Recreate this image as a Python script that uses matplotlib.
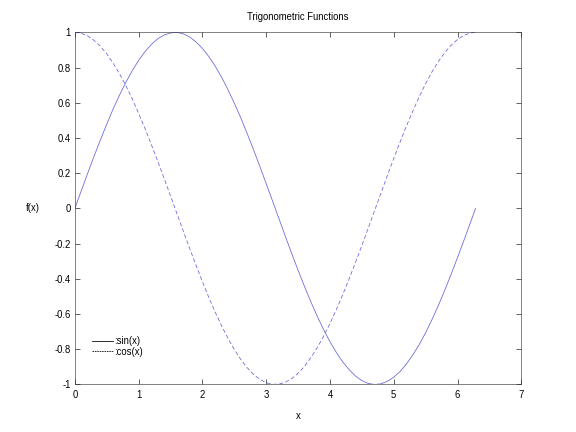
import matplotlib
matplotlib.use("Agg")
import matplotlib.pyplot as plt
from matplotlib.lines import Line2D

x = [0.0, 0.1, 0.2, 0.3, 0.4, 0.5, 0.6, 0.7, 0.8, 0.9, 1.0, 1.1, 1.2, 1.3, 1.4, 1.5,
     1.6, 1.7, 1.8, 1.9, 2.0, 2.1, 2.2, 2.3, 2.4, 2.5, 2.6, 2.7, 2.8, 2.9, 3.0, 3.1,
     3.2, 3.3, 3.4, 3.5, 3.6, 3.7, 3.8, 3.9, 4.0, 4.1, 4.2, 4.3, 4.4, 4.5, 4.6, 4.7,
     4.8, 4.9, 5.0, 5.1, 5.2, 5.3, 5.4, 5.5, 5.6, 5.7, 5.8, 5.9, 6.0, 6.1, 6.2, 6.283]
sin_vals = [0.000, 0.100, 0.199, 0.296, 0.389, 0.479, 0.565, 0.644, 0.717, 0.783,
            0.841, 0.891, 0.932, 0.964, 0.985, 0.997, 1.000, 0.992, 0.974, 0.946,
            0.909, 0.863, 0.808, 0.746, 0.675, 0.598, 0.516, 0.427, 0.335, 0.239,
            0.141, 0.042, -0.058, -0.158, -0.256, -0.351, -0.443, -0.530, -0.612, -0.688,
            -0.757, -0.818, -0.872, -0.916, -0.952, -0.978, -0.994, -1.000, -0.996, -0.982,
            -0.959, -0.926, -0.883, -0.832, -0.773, -0.706, -0.631, -0.551, -0.465, -0.374,
            -0.279, -0.182, -0.083, 0.000]
cos_vals = [1.000, 0.995, 0.980, 0.955, 0.921, 0.878, 0.825, 0.765, 0.697, 0.622,
            0.540, 0.454, 0.362, 0.267, 0.170, 0.071, -0.029, -0.129, -0.227, -0.323,
            -0.416, -0.505, -0.589, -0.666, -0.737, -0.801, -0.857, -0.904, -0.942, -0.971,
            -0.990, -0.999, -0.998, -0.987, -0.967, -0.936, -0.897, -0.848, -0.791, -0.726,
            -0.654, -0.575, -0.490, -0.401, -0.307, -0.211, -0.112, -0.012, 0.087, 0.187,
            0.284, 0.378, 0.469, 0.554, 0.635, 0.709, 0.776, 0.835, 0.886, 0.927,
            0.960, 0.983, 0.997, 1.000]
xticks = [0, 1, 2, 3, 4, 5, 6, 7]
yticks = [-1, -0.8, -0.6, -0.4, -0.2, 0, 0.2, 0.4, 0.6, 0.8, 1]
ytick_labels = ["-1", "-0.8", "-0.6", "-0.4", "-0.2", "0", "0.2", "0.4", "0.6", "0.8", "1"]
legend_labels = [":sin(x)", ":cos(x)"]

plt.rcParams['font.family'] = ['Liberation Sans', 'DejaVu Sans']
fig = plt.figure(figsize=(8, 6), dpi=72)
ax = fig.add_axes([0.13, 0.11, 0.775, 0.815])

line_color = '#6a6ad8'
ax.plot(x, sin_vals, color=line_color, lw=0.8, linestyle='-')
ax.plot(x, cos_vals, color=line_color, lw=0.8, linestyle=(0, (5, 3)))

ax.set_xlim(0, 7)
ax.set_ylim(-1, 1)
ax.set_xticks(xticks)
ax.set_xticklabels([str(t) for t in xticks])
ax.set_yticks(yticks)
ax.set_yticklabels(ytick_labels)
ax.tick_params(direction='in', length=5, width=0.6, top=True, right=True,
               labelsize=9.5, colors='black')
ax.tick_params(axis='x', pad=6)
ax.tick_params(axis='y', pad=4)
for s in ax.spines.values():
    s.set_linewidth(0.6)
    s.set_color('#333333')

ax.set_title("Trigonometric Functions", fontsize=9.5, pad=12)
ax.set_xlabel("x", fontsize=9.5, labelpad=11)
ax.set_ylabel("f(x)", fontsize=9.5, rotation=0, labelpad=22, va='center')

handles = [Line2D([], [], color='black', lw=0.8, linestyle='-'),
           Line2D([], [], color='black', lw=0.8, linestyle=(0, (2, 1)))]
ax.legend(handles, legend_labels, loc='lower left', bbox_to_anchor=(0.03, 0.068),
          frameon=False, fontsize=9.5, handlelength=2.2, handletextpad=0.1,
          labelspacing=0.05, borderaxespad=0)

fig.savefig("out.png", dpi=72)
